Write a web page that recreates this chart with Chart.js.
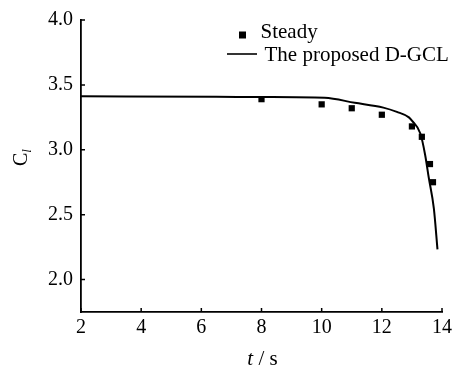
<!DOCTYPE html>
<html>
<head>
<meta charset="utf-8">
<script src="https://cdn.jsdelivr.net/npm/chart.js@4"></script>
<style>
  html, body { margin: 0; padding: 0; background: #fff; }
  #wrap { width: 462px; height: 373px; }
</style>
</head>
<body>
<div id="wrap"><canvas id="clChart" width="462" height="373"></canvas></div>
<script>
// dados
const steadyT = [8, 10, 11, 12, 13, 13.33, 13.6, 13.7];
const steadyCl = [3.39, 3.35, 3.32, 3.27, 3.18, 3.10, 2.89, 2.75];

const dgclT = [2, 6.5, 8, 10.1, 11.1, 12.05, 12.5, 12.9, 13.0, 13.28, 13.44, 13.56, 13.73, 13.85];
const dgclCl = [3.412, 3.409, 3.406, 3.40, 3.362, 3.325, 3.292, 3.25, 3.225, 3.125, 2.96, 2.785, 2.546, 2.232];

const xTicks = [2, 4, 6, 8, 10, 12, 14];
const yTicks = [2.0, 2.5, 3.0, 3.5, 4.0];

const serif = '"Liberation Serif", "DejaVu Serif", serif';

// ticks para dentro, títulos e legenda
const decorPlugin = {
    id: 'decor',
    afterDraw(chart) {
        const ctx = chart.ctx;
        const area = chart.chartArea;
        const xs = chart.scales.x;
        const ys = chart.scales.y;
        ctx.save();
        ctx.strokeStyle = '#000';
        ctx.lineWidth = 1.5;
        ctx.beginPath();
        xs.ticks.forEach(t => {
            const px = xs.getPixelForValue(t.value);
            ctx.moveTo(px, area.bottom);
            ctx.lineTo(px, area.bottom - 4);
        });
        ys.ticks.forEach(t => {
            const py = ys.getPixelForValue(t.value);
            ctx.moveTo(area.left, py);
            ctx.lineTo(area.left + 4, py);
        });
        ctx.stroke();

        ctx.fillStyle = '#000';
        ctx.textBaseline = 'alphabetic';

        // título do eixo x: t / s
        ctx.font = 'italic 21px ' + serif;
        const tW = ctx.measureText('t').width;
        ctx.font = '21px ' + serif;
        const restW = ctx.measureText(' / s').width;
        const cx = (area.left + area.right) / 2 + 1;
        let sx = cx - (tW + restW) / 2;
        ctx.font = 'italic 21px ' + serif;
        ctx.textAlign = 'left';
        ctx.fillText('t', sx, 365);
        ctx.font = '21px ' + serif;
        ctx.fillText(' / s', sx + tW, 365);

        // título do eixo y: C_l
        ctx.save();
        ctx.translate(27, 166);
        ctx.rotate(-Math.PI / 2);
        ctx.font = '20px ' + serif;
        ctx.fillText('C', 0, 0);
        const cW = ctx.measureText('C').width;
        ctx.font = 'italic 13px ' + serif;
        ctx.fillText('l', cW, 4);
        ctx.restore();

        // legenda
        ctx.font = '21px ' + serif;
        ctx.fillRect(239, 31.5, 7, 7);
        ctx.fillText('Steady', 260.5, 38);
        ctx.beginPath();
        ctx.lineWidth = 1.6;
        ctx.moveTo(227, 54);
        ctx.lineTo(257, 54);
        ctx.stroke();
        ctx.fillText('The proposed D-GCL', 264.5, 60.5);
        ctx.restore();
    }
};

new Chart(document.getElementById('clChart'), {
    type: 'scatter',
    data: {
        datasets: [
            {
                label: 'Steady',
                data: steadyT.map((t, i) => ({ x: t, y: steadyCl[i] })),
                pointStyle: 'rect',
                pointRadius: 4.4,
                pointBorderWidth: 0,
                backgroundColor: '#000',
                borderColor: '#000',
                showLine: false
            },
            {
                label: 'The proposed D-GCL',
                data: dgclT.map((t, i) => ({ x: t, y: dgclCl[i] })),
                showLine: true,
                borderColor: '#000',
                borderWidth: 2,
                pointRadius: 0,
                cubicInterpolationMode: 'monotone'
            }
        ]
    },
    options: {
        responsive: false,
        animation: false,
        devicePixelRatio: 1,
        layout: { padding: { left: 0, top: 13, right: 20, bottom: 0 } },
        plugins: {
            legend: { display: false },
            tooltip: { enabled: false }
        },
        scales: {
            x: {
                type: 'linear',
                min: 2,
                max: 14,
                afterBuildTicks: s => { s.ticks = xTicks.map(v => ({ value: v })); },
                afterFit: s => { s.height = 61; },
                grid: { display: false, drawTicks: false },
                border: { display: true, color: '#000', width: 1.8 },
                ticks: {
                    color: '#000',
                    padding: 4,
                    maxRotation: 0,
                    font: { family: serif, size: 20 },
                    callback: v => String(v)
                }
            },
            y: {
                type: 'linear',
                min: 1.75,
                max: 4.0,
                afterBuildTicks: s => { s.ticks = yTicks.map(v => ({ value: v })); },
                afterFit: s => { s.width = 81; },
                grid: { display: false, drawTicks: false },
                border: { display: true, color: '#000', width: 1.8 },
                ticks: {
                    color: '#000',
                    padding: 8,
                    font: { family: serif, size: 20 },
                    callback: v => v.toFixed(1)
                }
            }
        }
    },
    plugins: [decorPlugin]
});
</script>
</body>
</html>
